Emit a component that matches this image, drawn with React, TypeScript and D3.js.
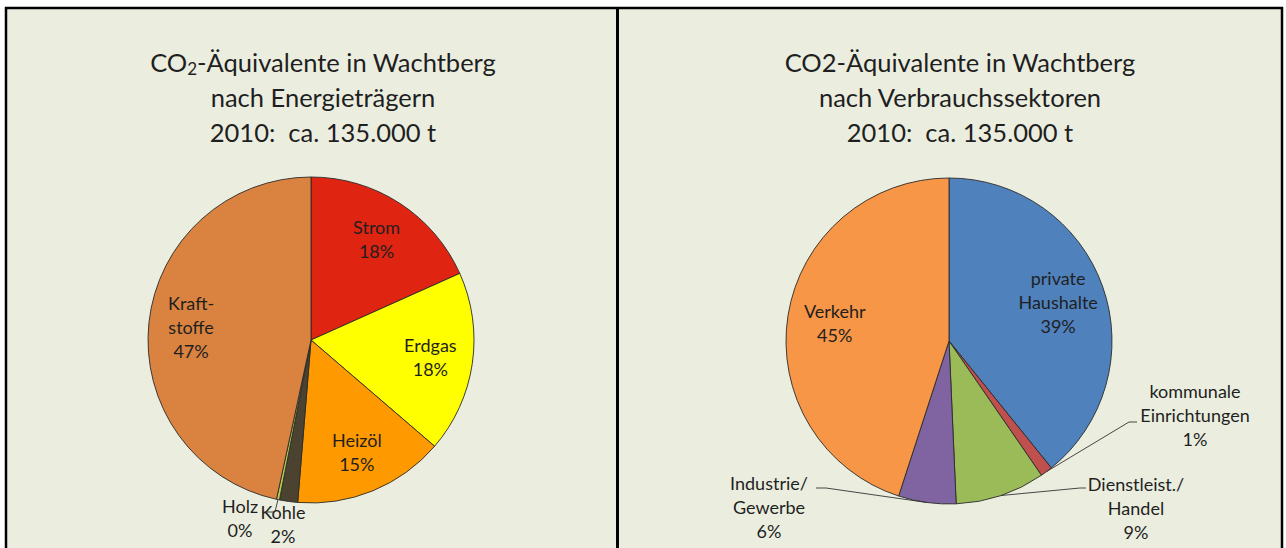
import React from "react";
import * as d3 from "d3";

// ---------- data ----------
const energyNames = ["Strom", "Erdgas", "Heizöl", "Kohle", "Holz", "Kraftstoffe"];
const energyValues = [18.3, 18.0, 15.0, 1.8, 0.3, 46.6];
const energyLabels = [["Strom"], ["Erdgas"], ["Heizöl"], ["Kohle"], ["Holz"], ["Kraft-", "stoffe"]];
const energyColors = ["#DF2412", "#FFFF00", "#FF9900", "#4B4230", "#B5C94A", "#DA8340"];

const sectorNames = ["private Haushalte", "kommunale Einrichtungen", "Dienstleist./Handel", "Industrie/Gewerbe", "Verkehr"];
const sectorValues = [39.2, 1.2, 8.9, 5.7, 45.0];
const sectorLabels = [["private", "Haushalte"], ["kommunale", "Einrichtungen"], ["Dienstleist./", "Handel"], ["Industrie/", "Gewerbe"], ["Verkehr"]];
const sectorColors = ["#4F81BD", "#C0504D", "#9BBB59", "#8064A2", "#F79646"];

const titleLeft = ["nach Energieträgern", "2010:\u00A0 ca. 135.000 t"];
const titleRight = ["CO2-Äquivalente in Wachtberg", "nach Verbrauchssektoren", "2010:\u00A0 ca. 135.000 t"];

// ---------- layout ----------
const W = 1286, H = 548;
const BG = "#EBEEDF";
const FONT = "Lato, 'Open Sans', sans-serif";
const R = 163;
const TEXT = "#1f1f1f";
const LABEL_SIZE = 18;
const TITLE_SIZE = 25.5;

// outside label placements (label center x, first line center y, leader elbow, leader end)
const energyOutside: Record<number, { x: number; y: number; elbow?: [number, number]; end?: [number, number] }> = {
  4: { x: 240, y: 506, elbow: [275, 512], end: [262, 512] },
  3: { x: 283, y: 512 },
};
const sectorOutside: Record<number, { x: number; y: number; elbow: [number, number]; end: [number, number] }> = {
  1: { x: 1195, y: 391, elbow: [1129, 422], end: [1137, 422] },
  2: { x: 1136, y: 484, elbow: [1080, 488], end: [1086, 488] },
  3: { x: 769, y: 483, elbow: [826, 488], end: [816, 488] },
};

type PieProps = {
  cx: number; cy: number;
  values: number[]; colors: string[]; labels: string[][];
  labelR: number;
  outside: Record<number, any>;
};

function Pie({ cx, cy, values, colors, labels, labelR, outside }: PieProps) {
  const total = d3.sum(values);
  const pie = d3.pie<number>().sort(null).value((d) => d)(values);
  const arc = d3.arc<d3.PieArcDatum<number>>().innerRadius(0).outerRadius(R);
  const labelArc = d3.arc<d3.PieArcDatum<number>>().innerRadius(labelR).outerRadius(labelR);
  const edgeArc = d3.arc<d3.PieArcDatum<number>>().innerRadius(R).outerRadius(R);
  const pct = (v: number) => `${Math.round((v / total) * 100)}%`;
  return (
    <g>
      <g transform={`translate(${cx},${cy})`}>
        {pie.map((p, i) => (
          <path key={i} d={arc(p) || ""} fill={colors[i]} stroke="#2a2a2a" strokeWidth={0.9} strokeLinejoin="round" />
        ))}
      </g>
      {pie.map((p, i) => {
        const lines = [...labels[i], pct(p.value)];
        const o = outside[i];
        if (o) {
          const [ex, ey] = edgeArc.centroid(p);
          return (
            <g key={i}>
              {o.elbow && (
                <polyline
                  points={`${cx + ex},${cy + ey} ${o.elbow[0]},${o.elbow[1]} ${o.end[0]},${o.end[1]}`}
                  fill="none" stroke="#333" strokeWidth={0.9}
                />
              )}
              {lines.map((t, j) => (
                <text key={j} x={o.x} y={o.y + j * 24} textAnchor="middle" dominantBaseline="central"
                  fontFamily={FONT} fontSize={LABEL_SIZE} fill={TEXT}>{t}</text>
              ))}
            </g>
          );
        }
        const [lx, ly] = labelArc.centroid(p);
        const y0 = cy + ly - ((lines.length - 1) * 24) / 2;
        return (
          <g key={i}>
            {lines.map((t, j) => (
              <text key={j} x={cx + lx} y={y0 + j * 24} textAnchor="middle" dominantBaseline="central"
                fontFamily={FONT} fontSize={LABEL_SIZE} fill={TEXT}>{t}</text>
            ))}
          </g>
        );
      })}
    </g>
  );
}

export default function App() {
  const titleYs = [62, 97, 132];
  return (
    <svg width={W} height={H} style={{ position: "absolute", left: 0, top: 0, background: "#fff" }}>
      <rect x={0} y={0} width={W} height={H} fill="#fff" />
      <rect x={7} y={9} width={1274} height={H} fill={BG} />
      {/* borders */}
      <line x1={5} y1={8} x2={1283} y2={8} stroke="#000" strokeWidth={2.5} />
      <line x1={6} y1={7} x2={6} y2={H} stroke="#000" strokeWidth={2.5} />
      <line x1={1282} y1={7} x2={1282} y2={H} stroke="#000" strokeWidth={2.5} />
      <line x1={617.5} y1={7} x2={617.5} y2={H} stroke="#000" strokeWidth={3} />

      {/* left title */}
      <text x={323} y={titleYs[0]} textAnchor="middle" dominantBaseline="central" fontFamily={FONT} fontSize={TITLE_SIZE} fill={TEXT}>
        CO<tspan fontSize={17} dy={6}>2</tspan><tspan dy={-6}>-Äquivalente in Wachtberg</tspan>
      </text>
      {titleLeft.map((t, i) => (
        <text key={i} x={323} y={titleYs[i + 1]} textAnchor="middle" dominantBaseline="central" fontFamily={FONT} fontSize={TITLE_SIZE} fill={TEXT}>{t}</text>
      ))}
      {/* right title */}
      {titleRight.map((t, i) => (
        <text key={i} x={960} y={titleYs[i]} textAnchor="middle" dominantBaseline="central" fontFamily={FONT} fontSize={TITLE_SIZE} fill={TEXT}>{t}</text>
      ))}

      <Pie cx={311} cy={340} values={energyValues} colors={energyColors} labels={energyLabels} labelR={R * 0.74} outside={energyOutside} />
      <Pie cx={949} cy={341} values={sectorValues} colors={sectorColors} labels={sectorLabels} labelR={R * 0.71} outside={sectorOutside} />
    </svg>
  );
}
